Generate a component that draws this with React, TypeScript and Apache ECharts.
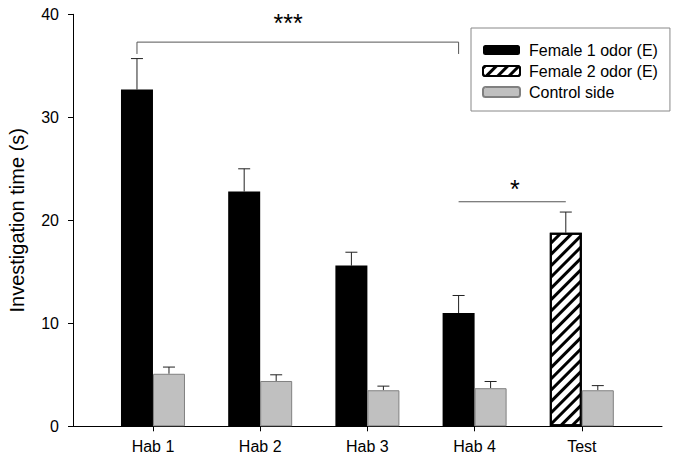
import React, { useEffect, useRef } from "react";
import * as echarts from "echarts";

const categories = ["Hab 1", "Hab 2", "Hab 3", "Hab 4", "Test"];
const female1Values = [32.7, 22.8, 15.6, 11.0, null];
const female1Errors = [3.0, 2.2, 1.3, 1.7, null];
const female2Values = [null, null, null, null, 18.8];
const female2Errors = [null, null, null, null, 2.0];
const controlValues = [5.1, 4.4, 3.5, 3.7, 3.5];
const controlErrors = [0.65, 0.6, 0.4, 0.65, 0.45];
const yTicks = [0, 10, 20, 30, 40];
// bracket annotations: from/to category index, bracket height, leg drop, label, label position
const bracketFrom = [0, 3];
const bracketTo = [3, 4];
const bracketY = [37.3, 21.8];
const bracketDrop = [1.15, 0];
const bracketLabels = ["***", "*"];
const bracketLabelX = [2.26, 4.375];
const bracketLabelY = [39.2, 23.0];

const FONT = "'Liberation Sans', Arial, Helvetica, sans-serif";
const BAR_W = 32;

export default function App() {
  const ref = useRef<HTMLDivElement>(null);
  useEffect(() => {
    document.body.style.margin = "0";
    const chart = echarts.init(ref.current!, null, { renderer: "svg" });
    const pos = (i: number) => i + 1;
    const barData = (vals: (number | null)[]) =>
      vals.map((v, i) => [pos(i), v == null ? "-" : v]);
    const errData = (vals: (number | null)[], errs: (number | null)[]) =>
      vals
        .map((v, i) => (v == null ? null : [pos(i), v, v + (errs[i] as number)]))
        .filter((d) => d !== null);
    const errRender = (offset: number) => (params: any, api: any) => {
      const x = api.value(0);
      const base = api.coord([x, api.value(1)]);
      const top = api.coord([x, api.value(2)]);
      const cx = base[0] + offset;
      return {
        type: "group",
        children: [
          { type: "line", shape: { x1: cx, y1: base[1], x2: cx, y2: top[1] }, style: { stroke: "#222", lineWidth: 1 } },
          { type: "line", shape: { x1: cx - 6, y1: top[1], x2: cx + 6, y2: top[1] }, style: { stroke: "#222", lineWidth: 1 } },
        ],
      };
    };
    const bracketData = bracketFrom.map((f, i) => [
      pos(f), pos(bracketTo[i]), bracketY[i], bracketY[i] - bracketDrop[i], bracketLabelX[i], bracketLabelY[i],
    ]);
    chart.setOption({
      animation: false,
      textStyle: { fontFamily: FONT },
      grid: { left: 73, right: 17, top: 14.3, bottom: 36.7, outerBoundsMode: "none", containLabel: false },
      legend: {
        orient: "vertical",
        left: 471,
        top: 28,
        data: ["Female 1 odor (E)", "Female 2 odor (E)", "Control side"],
        itemWidth: 37,
        itemHeight: 10,
        itemGap: 3,
        padding: [13, 12, 10, 11],
        borderColor: "#888",
        borderWidth: 1,
        borderRadius: 0,
        selectedMode: false,
        textStyle: { fontSize: 16, color: "#000", fontFamily: FONT, lineHeight: 18, padding: [0, 0, 0, 4] },
      },
      xAxis: {
        type: "value",
        min: 0.254,
        max: 5.748,
        splitLine: { show: false },
        axisLine: { show: true, lineStyle: { color: "#000", width: 1 } },
        axisTick: { show: true, customValues: [1, 2, 3, 4, 5], length: 5, lineStyle: { color: "#000" } },
        axisLabel: {
          customValues: [1, 2, 3, 4, 5],
          formatter: (v: number) => categories[Math.round(v) - 1] ?? "",
          fontSize: 16,
          color: "#000",
          margin: 12,
          fontFamily: FONT,
        },
      },
      yAxis: {
        type: "value",
        min: 0,
        max: 40,
        interval: 10,
        name: "Investigation time (s)",
        nameLocation: "middle",
        nameGap: 46,
        nameMoveOverlap: false,
        nameTextStyle: { fontSize: 20, color: "#000", fontFamily: FONT },
        splitLine: { show: false },
        axisLine: { show: true, lineStyle: { color: "#000", width: 1 } },
        axisTick: { show: true, length: 5, lineStyle: { color: "#000" } },
        axisLabel: {
          fontSize: 16,
          color: "#000",
          margin: 14,
          fontFamily: FONT,
          formatter: (v: number) => (yTicks.includes(v) ? String(v) : ""),
        },
      },
      series: [
        {
          name: "Female 1 odor (E)",
          type: "bar",
          stack: "odor",
          barWidth: BAR_W,
          barGap: "0%",
          data: barData(female1Values),
          itemStyle: { color: "#000", borderColor: "#000", borderWidth: 0 },
        },
        {
          name: "Female 2 odor (E)",
          type: "bar",
          stack: "odor",
          barWidth: BAR_W,
          barGap: "0%",
          data: barData(female2Values),
          itemStyle: {
            color: "#fff",
            borderColor: "#000",
            borderWidth: 2,
            decal: {
              symbol: "rect",
              symbolSize: 1,
              color: "#000",
              backgroundColor: "#fff",
              dashArrayX: [1, 0],
              dashArrayY: [3, 5],
              rotation: -Math.PI / 4,
            },
          },
        },
        {
          name: "Control side",
          type: "bar",
          barWidth: BAR_W,
          barGap: "0%",
          data: barData(controlValues),
          itemStyle: { color: "#c0c0c0", borderColor: "#808080", borderWidth: 1 },
        },
        {
          type: "custom",
          silent: true,
          clip: false,
          encode: { x: 0, y: [1, 2] },
          data: errData(female1Values, female1Errors),
          renderItem: errRender(-BAR_W / 2),
        },
        {
          type: "custom",
          silent: true,
          clip: false,
          encode: { x: 0, y: [1, 2] },
          data: errData(female2Values, female2Errors),
          renderItem: errRender(-BAR_W / 2),
        },
        {
          type: "custom",
          silent: true,
          clip: false,
          encode: { x: 0, y: [1, 2] },
          data: errData(controlValues, controlErrors),
          renderItem: errRender(BAR_W / 2),
        },
        {
          type: "custom",
          silent: true,
          clip: false,
          encode: { x: [0, 1], y: [2, 3] },
          data: bracketData,
          renderItem: (params: any, api: any) => {
            const i = params.dataIndex;
            const a = api.coord([api.value(0), api.value(2)]);
            const b = api.coord([api.value(1), api.value(2)]);
            const aLow = api.coord([api.value(0), api.value(3)]);
            const lab = api.coord([api.value(4), api.value(5)]);
            const x1 = a[0] - BAR_W / 2;
            const x2 = b[0] - BAR_W / 2;
            const stroke = { stroke: "#555", lineWidth: 1 };
            const children: any[] = [
              { type: "line", shape: { x1, y1: a[1], x2, y2: a[1] }, style: stroke },
              {
                type: "text",
                x: lab[0],
                y: lab[1],
                style: { text: bracketLabels[i], fill: "#000", fontSize: 25, fontFamily: FONT, align: "center", verticalAlign: "middle" },
              },
            ];
            if (aLow[1] !== a[1]) {
              children.push({ type: "line", shape: { x1, y1: a[1], x2: x1, y2: aLow[1] }, style: stroke });
              children.push({ type: "line", shape: { x1: x2, y1: a[1], x2: x2, y2: aLow[1] }, style: stroke });
            }
            return { type: "group", children };
          },
        },
      ],
    });
    return () => chart.dispose();
  }, []);
  return <div ref={ref} style={{ width: 679, height: 463 }} />;
}
